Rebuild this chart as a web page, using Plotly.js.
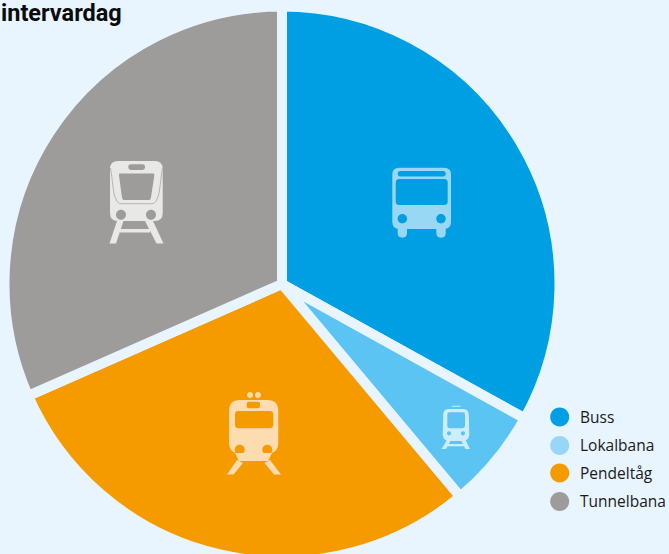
<!DOCTYPE html>
<html><head><meta charset="utf-8">
<script src="https://cdn.plot.ly/plotly-3.0.1.min.js"></script>
<style>html,body{margin:0;padding:0;width:669px;height:554px;overflow:hidden;background:#E8F5FE}</style>
</head><body><div id="chart"></div>
<script>
const categories = ["Buss","Lokalbana","Pendeltåg","Tunnelbana"];
const shares = [33.05,5.85,29.5,31.6];
const sliceColors = ["#009FE3","#5BC4F2","#F59B00","#9D9C9A"];
const legendColors = ["#009FE3","#97D6F8","#F59B00","#9D9C9A"];
const iconColors = ["#99D8F4","#CDEDFB","#FDDDB0","#E8E8E7"];
const titleText = "intervardag";
const bg = "#E8F5FE";
const W = 669, H = 566;

function rr(x0,y0,x1,y1,r){return `M${x0+r} ${y0}L${x1-r} ${y0}Q${x1} ${y0} ${x1} ${y0+r}L${x1} ${y1-r}Q${x1} ${y1} ${x1-r} ${y1}L${x0+r} ${y1}Q${x0} ${y1} ${x0} ${y1-r}L${x0} ${y0+r}Q${x0} ${y0} ${x0+r} ${y0}Z`;}
function circ(cx,cy,r){const k=r*0.5523;return `M${cx-r} ${cy}C${cx-r} ${cy-k} ${cx-k} ${cy-r} ${cx} ${cy-r}C${cx+k} ${cy-r} ${cx+r} ${cy-k} ${cx+r} ${cy}C${cx+r} ${cy+k} ${cx+k} ${cy+r} ${cx} ${cy+r}C${cx-k} ${cy+r} ${cx-r} ${cy+k} ${cx-r} ${cy}Z`;}
function toPaper(d){
  return d.replace(/(-?[\d.]+) (-?[\d.]+)/g,(m,x,y)=>`${(+x/W).toFixed(5)} ${(1-(+y)/H).toFixed(5)}`);
}
function shape(d,color,rule){
  return {type:"path",xref:"paper",yref:"paper",path:toPaper(d),fillcolor:color,line:{width:0},layer:"above",fillrule:rule||"evenodd"};
}
const iconBus = [
  rr(392.3,167.7,451,229,7)+rr(397.7,171,445.7,176.5,2.7)+rr(395.7,179,447.7,205,3.5)+circ(402.3,218.7,4.7)+circ(441,218.7,4.7),
  rr(397.7,225,407,237.7,4.6), rr(436.3,225,445.7,237.7,4.6)
];
const iconLokal = [
  "M449 409L463 409C467 409 468.5 411 468.8 415L469.3 434C469.3 438 467 441 463 441L449 441C445 441 442.7 438 442.7 434L443.2 415C443.5 411 445 409 449 409Z"
    +rr(447.3,412.3,465,428.3,2.5)+circ(449,433.3,2.1)+circ(463,433.3,2.1),
  rr(451.7,405.7,460.7,406.8,0.5),
  "M447 440L451 440L446 449L441.5 449Z","M461 440L465.5 440L470 449L465.5 449Z","M446 444L466 444L466 446.3L446 446.3Z"
];
const iconPendel = [
  rr(229,400,278.3,453.5,11)+rr(235,411,273.3,428.3,3.5)+rr(246.7,401.7,260,408.3,2)+circ(239.7,449.7,5)+circ(267.3,449.7,5),
  circ(250,395,3), circ(258,395,3),
  "M237 460L243 463L233.5 474.5L227 474.5Z","M270 460L264.5 463L274 474.5L281 474.5Z",
  "M235 453L272 453L268 461L239 461Z"
];
const iconTunnel = [
  rr(110,161,162.7,221,8)
   +"M120 173.5L153 173.5C154 173.5 154.5 174 154.3 175.5L151 197.5C150.7 199.5 150 200 148 200L125 200C123 200 122.3 199.5 122 197.5L119 175.5C118.8 174 119 173.5 120 173.5Z"
   +rr(128.3,164.3,145,170,2.5)+circ(121,214.7,5)+circ(151,214.7,5),
  "M117 221L123.5 221L116 243.5L109.5 243.5Z","M145 221L153 221L163.5 243.5L156.5 243.5Z","M120 229L150 229L150 232.5L120 232.5Z"
];
const shapes = [];
[iconBus,iconLokal,iconPendel,iconTunnel].forEach((ic,i)=>ic.forEach(d=>shapes.push(shape(d,iconColors[i]))));
["M110.5 168C112.5 178 113 195 116 199C117 202 118.5 203.7 121.5 203.7L151.5 203.7C154.5 203.7 156 202 157 199C160 195 160.5 178 162.5 168",
].forEach(d=>shapes.push({type:"path",xref:"paper",yref:"paper",path:toPaper(d),line:{width:1,color:"#B5B4B2"},layer:"above"}));
const legendY = [416.5,445,472.5,501];
const annotations = [];
categories.forEach((c,i)=>{
  shapes.push(shape(circ(559.7,legendY[i]+.5,9.5),legendColors[i]));
  annotations.push({text:c,xref:"paper",yref:"paper",x:580/W,y:1-legendY[i]/H,xanchor:"left",yanchor:"middle",showarrow:false,
    font:{family:"'Open Sans', Roboto, sans-serif",size:15.5,color:"#1a1a1a"},borderpad:0,borderwidth:0});
});
annotations.push({text:"<b>"+titleText+"</b>",xref:"paper",yref:"paper",x:0,y:1-12.5/H,xanchor:"left",yanchor:"middle",showarrow:false,borderpad:0,
  font:{family:"'Liberation Sans Narrow', Roboto, sans-serif",size:23.5,color:"#0b0b0b"}});
Plotly.newPlot("chart",[{
  type:"pie",labels:categories,values:shares,sort:false,direction:"clockwise",rotation:0,
  textinfo:"none",hoverinfo:"label+percent",
  marker:{colors:sliceColors,line:{color:bg,width:10}},
  domain:{x:[4.5/W,559.5/W],y:[1-561.5/H,1-6.5/H]}
}],{
  width:W,height:H,margin:{l:0,r:0,t:0,b:0},paper_bgcolor:bg,plot_bgcolor:bg,showlegend:false,shapes,annotations
},{displayModeBar:false,staticPlot:true});
</script></body></html>
